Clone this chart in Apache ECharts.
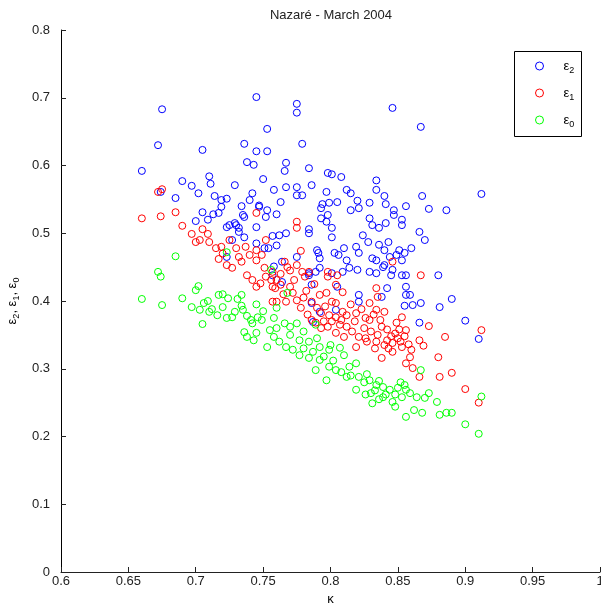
<!DOCTYPE html>
<html><head><meta charset="utf-8">
<script src="https://cdn.jsdelivr.net/npm/echarts@6/dist/echarts.min.js"></script>
<style>html,body{margin:0;padding:0;background:#fff}#c{width:601px;height:607px}</style>
</head><body><div id="c"></div>
<script>
// ε2 (kappa, value)
const e2Points = [
[0.675,0.683],[0.672,0.630],[0.660,0.592],[0.705,0.623],[0.736,0.632],[0.745,0.701],[0.738,0.605],[0.743,0.601],[0.745,0.621],
[0.690,0.577],[0.697,0.570],[0.702,0.559],[0.710,0.584],[0.711,0.573],[0.729,0.571],[0.674,0.561],[0.685,0.552],[0.714,0.555],
[0.719,0.549],[0.723,0.551],[0.719,0.539],[0.717,0.530],[0.734,0.540],[0.742,0.559],[0.740,0.549],[0.700,0.518],[0.705,0.531],
[0.709,0.520],[0.713,0.528],[0.723,0.509],[0.729,0.515],[0.732,0.508],[0.735,0.527],[0.727,0.490],[0.723,0.465],[0.736,0.524],
[0.745,0.509],[0.775,0.691],[0.775,0.678],[0.846,0.685],[0.867,0.657],[0.753,0.654],[0.779,0.632],[0.753,0.621],[0.767,0.604],
[0.766,0.592],[0.784,0.596],[0.750,0.580],[0.758,0.564],[0.767,0.568],[0.775,0.568],[0.786,0.571],[0.763,0.546],[0.775,0.556],
[0.779,0.556],[0.747,0.539],[0.752,0.524],[0.760,0.528],[0.784,0.506],[0.784,0.500],[0.767,0.500],[0.757,0.496],[0.762,0.497],
[0.745,0.485],[0.751,0.478],[0.760,0.482],[0.775,0.465],[0.790,0.475],[0.791,0.471],[0.801,0.494],[0.806,0.468],[0.810,0.478],
[0.812,0.460],[0.793,0.522],[0.797,0.517],[0.801,0.508],[0.793,0.537],[0.794,0.543],[0.799,0.545],[0.805,0.546],[0.798,0.527],
[0.798,0.589],[0.801,0.587],[0.808,0.583],[0.812,0.564],[0.815,0.559],[0.834,0.578],[0.834,0.564],[0.840,0.555],[0.868,0.555],
[0.873,0.536],[0.886,0.534],[0.815,0.534],[0.821,0.537],[0.829,0.545],[0.829,0.522],[0.831,0.512],[0.836,0.508],[0.841,0.515],
[0.847,0.527],[0.853,0.520],[0.853,0.512],[0.866,0.502],[0.870,0.490],[0.824,0.497],[0.828,0.487],[0.836,0.483],[0.843,0.487],
[0.849,0.468],[0.855,0.471],[0.860,0.478],[0.853,0.460],[0.819,0.480],[0.821,0.471],[0.831,0.463],[0.839,0.450],[0.846,0.446],
[0.853,0.438],[0.820,0.446],[0.814,0.449],[0.801,0.441],[0.809,0.443],[0.792,0.449],[0.789,0.443],[0.797,0.561],[0.764,0.458],
[0.784,0.441],[0.820,0.548],[0.841,0.543],[0.856,0.540],[0.847,0.534],[0.792,0.463],[0.803,0.471],[0.844,0.465],[0.834,0.460],
[0.840,0.475],[0.851,0.475],[0.840,0.453],[0.829,0.443],[0.834,0.441],[0.856,0.438],[0.845,0.438],[0.880,0.438],[0.764,0.428],
[0.786,0.424],[0.805,0.421],[0.842,0.419],[0.856,0.421],[0.856,0.409],[0.838,0.406],[0.821,0.409],[0.821,0.399],[0.786,0.397],
[0.792,0.384],[0.804,0.387],[0.861,0.394],[0.867,0.397],[0.881,0.391],[0.866,0.368],[0.787,0.369],[0.784,0.438],[0.855,0.393],
[0.890,0.403],[0.900,0.371],[0.910,0.344],[0.859,0.409],[0.912,0.558],[0.725,0.512],[0.730,0.512],[0.732,0.502],[0.736,0.494],
[0.754,0.478],[0.758,0.451],[0.747,0.541],[0.753,0.534],[0.757,0.438]
];
// ε1
const e1Points = [
[0.660,0.522],[0.674,0.525],[0.672,0.561],[0.675,0.565],[0.685,0.531],[0.690,0.511],[0.697,0.499],[0.700,0.487],[0.705,0.506],
[0.709,0.499],[0.703,0.490],[0.710,0.487],[0.715,0.478],[0.719,0.480],[0.725,0.490],[0.730,0.478],[0.737,0.480],[0.740,0.468],
[0.745,0.475],[0.749,0.468],[0.752,0.490],[0.745,0.530],[0.717,0.462],[0.723,0.453],[0.727,0.449],[0.734,0.458],[0.738,0.438],
[0.745,0.421],[0.751,0.449],[0.756,0.431],[0.759,0.419],[0.757,0.399],[0.742,0.431],[0.752,0.436],[0.757,0.421],[0.763,0.424],
[0.775,0.401],[0.778,0.390],[0.786,0.399],[0.792,0.409],[0.797,0.412],[0.801,0.399],[0.804,0.397],[0.786,0.372],[0.789,0.368],
[0.798,0.362],[0.804,0.376],[0.812,0.362],[0.809,0.384],[0.829,0.397],[0.834,0.387],[0.840,0.384],[0.829,0.372],[0.821,0.347],
[0.827,0.340],[0.819,0.332],[0.834,0.340],[0.842,0.342],[0.846,0.338],[0.849,0.368],[0.853,0.376],[0.856,0.357],[0.853,0.332],
[0.859,0.317],[0.856,0.308],[0.861,0.301],[0.867,0.438],[0.834,0.419],[0.835,0.406],[0.804,0.353],[0.799,0.379],[0.793,0.382],
[0.812,0.379],[0.819,0.382],[0.838,0.316],[0.866,0.342],[0.881,0.288],[0.885,0.347],[0.760,0.399],[0.767,0.399],[0.781,0.436],
[0.773,0.431],[0.798,0.436],[0.804,0.424],[0.809,0.413],[0.873,0.363],[0.880,0.317],[0.890,0.294],[0.900,0.270],[0.912,0.357],
[0.910,0.250],[0.869,0.334],[0.866,0.288],[0.775,0.517],[0.775,0.508],[0.766,0.458],[0.768,0.450],[0.775,0.453],[0.779,0.443],
[0.784,0.443],[0.757,0.443],[0.778,0.474],[0.798,0.443],[0.805,0.438],[0.846,0.458],[0.748,0.426],[0.760,0.431],[0.770,0.421],
[0.765,0.410],[0.772,0.412],[0.780,0.405],[0.783,0.380],[0.793,0.360],[0.796,0.392],[0.801,0.370],[0.807,0.365],[0.810,0.347],
[0.825,0.360],[0.830,0.355],[0.835,0.350],[0.838,0.362],[0.845,0.348],[0.850,0.345],[0.846,0.325],[0.843,0.330],[0.852,0.340],
[0.815,0.395],[0.818,0.370],[0.823,0.388],[0.826,0.375],[0.832,0.380],[0.837,0.372],[0.842,0.358],[0.848,0.352],[0.851,0.358],
[0.855,0.348],[0.858,0.336],[0.860,0.328],[0.840,0.335],[0.833,0.330],[0.826,0.345],[0.816,0.355],[0.808,0.372],[0.795,0.370],
[0.790,0.390],[0.782,0.415],[0.788,0.425],[0.763,0.440],[0.770,0.445],[0.745,0.460],[0.732,0.465],[0.720,0.470]
];
// ε0
const e0Points = [
[0.660,0.403],[0.675,0.394],[0.672,0.443],[0.674,0.436],[0.690,0.404],[0.697,0.391],[0.700,0.416],[0.702,0.422],[0.705,0.366],
[0.703,0.387],[0.706,0.397],[0.709,0.400],[0.710,0.384],[0.712,0.388],[0.717,0.409],[0.720,0.410],[0.716,0.379],[0.720,0.391],
[0.723,0.375],[0.724,0.404],[0.727,0.376],[0.729,0.384],[0.731,0.403],[0.734,0.409],[0.734,0.393],[0.735,0.387],[0.738,0.378],
[0.741,0.372],[0.742,0.367],[0.736,0.354],[0.738,0.347],[0.743,0.342],[0.745,0.353],[0.746,0.376],[0.685,0.466],[0.723,0.472],
[0.756,0.446],[0.768,0.412],[0.789,0.365],[0.760,0.360],[0.753,0.332],[0.749,0.372],[0.758,0.375],[0.755,0.357],[0.766,0.367],
[0.775,0.367],[0.767,0.332],[0.777,0.342],[0.784,0.340],[0.792,0.332],[0.799,0.328],[0.807,0.331],[0.784,0.316],[0.792,0.313],
[0.799,0.303],[0.804,0.298],[0.814,0.303],[0.819,0.308],[0.812,0.288],[0.821,0.288],[0.829,0.283],[0.834,0.276],[0.839,0.273],
[0.844,0.269],[0.850,0.272],[0.856,0.269],[0.830,0.264],[0.839,0.258],[0.846,0.251],[0.856,0.229],[0.831,0.249],[0.819,0.269],
[0.789,0.298],[0.797,0.283],[0.873,0.264],[0.879,0.251],[0.881,0.232],[0.886,0.235],[0.868,0.235],[0.867,0.298],[0.777,0.320],
[0.758,0.347],[0.855,0.276],[0.859,0.264],[0.864,0.258],[0.870,0.257],[0.862,0.239],[0.890,0.235],[0.900,0.218],[0.910,0.204],
[0.912,0.259],[0.762,0.340],[0.770,0.350],[0.772,0.328],[0.780,0.330],[0.787,0.325],[0.795,0.318],[0.802,0.312],[0.808,0.295],
[0.815,0.290],[0.825,0.280],[0.827,0.292],[0.833,0.268],[0.836,0.282],[0.841,0.262],[0.848,0.262],[0.852,0.280],[0.853,0.258],
[0.848,0.244],[0.836,0.255],[0.826,0.262],[0.810,0.320],[0.800,0.335],[0.790,0.345],[0.780,0.355],[0.770,0.362],[0.750,0.385],
[0.745,0.395],[0.760,0.390]
];
const seriesNames = ['eps2', 'eps1', 'eps0'];
const seriesSubs = ['2', '1', '0'];
const seriesColors = ['#0000ff', '#ff0000', '#00ff00'];
const seriesData = [e2Points, e1Points, e0Points];
const titleText = 'Nazaré - March 2004';
const xName = 'κ';

const font = '"Liberation Sans", Arial, sans-serif';
const rich = {
  a: {fontSize: 13, lineHeight: 18, fontFamily: font, color: '#000'},
  s: {fontSize: 9, lineHeight: 9, padding: [9, 0, 0, 0], fontFamily: font, color: '#000'},
  g: {width: 15, lineHeight: 18}
};
const chart = echarts.init(document.getElementById('c'), null, {renderer: 'canvas'});
const option = {
  animation: false,
  backgroundColor: '#fff',
  grid: {left: 61, top: 30, width: 539, height: 542, outerBoundsMode: 'none', containLabel: false},
  xAxis: {
    type: 'value', min: 0.6, max: 1, interval: 0.05,
    name: xName, nameLocation: 'middle', nameGap: 20,
    nameTextStyle: {fontSize: 13, fontFamily: font, color: '#000'},
    axisLine: {show: true, onZero: false, lineStyle: {color: '#222', width: 1}},
    axisTick: {show: true, inside: true, length: 5, lineStyle: {color: '#222'}},
    axisLabel: {margin: 3, fontSize: 13, fontFamily: font, color: '#222', showMaxLabel: true, showMinLabel: true, hideOverlap: false},
    splitLine: {show: false}
  },
  yAxis: {
    type: 'value', min: 0, max: 0.8, interval: 0.1,
    name: '{a|ε}{s|2}{a|, ε}{s|1}{a|, ε}{s|0}', nameLocation: 'middle', nameGap: 31, nameRotate: 90,
    nameTextStyle: {rich: rich},
    axisLine: {show: true, onZero: false, lineStyle: {color: '#000', width: 1}},
    axisTick: {show: true, inside: true, length: 5, lineStyle: {color: '#222'}},
    axisLabel: {margin: 11, fontSize: 13, fontFamily: font, color: '#222'},
    splitLine: {show: false}
  },
  legend: {
    left: 514, top: 51, orient: 'vertical', padding: [6, 0, 0, 21],
    itemWidth: 8, itemHeight: 8, itemGap: 9,
    itemStyle: {borderWidth: 1, color: 'rgba(0,0,0,0)'},
    data: seriesNames,
    formatter: function (n) { return '{g|}{a|ε}{s|' + seriesSubs[seriesNames.indexOf(n)] + '}'; },
    textStyle: {rich: rich}
  },
  graphic: [
    {type: 'text', x: 331, y: 15, style: {text: titleText, align: 'center', verticalAlign: 'middle', font: '13px ' + font, fill: '#222'}},
    {type: 'rect', shape: {x: 514.5, y: 51.5, width: 67, height: 85}, style: {fill: 'none', stroke: '#000', lineWidth: 1}, z: 10}
  ],
  series: seriesNames.map(function (n, i) {
    return {
      type: 'scatter', name: n, data: seriesData[i], symbol: 'circle', symbolSize: 7,
      itemStyle: {color: 'rgba(0,0,0,0)', borderColor: seriesColors[i], borderWidth: 1, opacity: 1}
    };
  })
};
chart.setOption(option);
</script>
</body></html>
